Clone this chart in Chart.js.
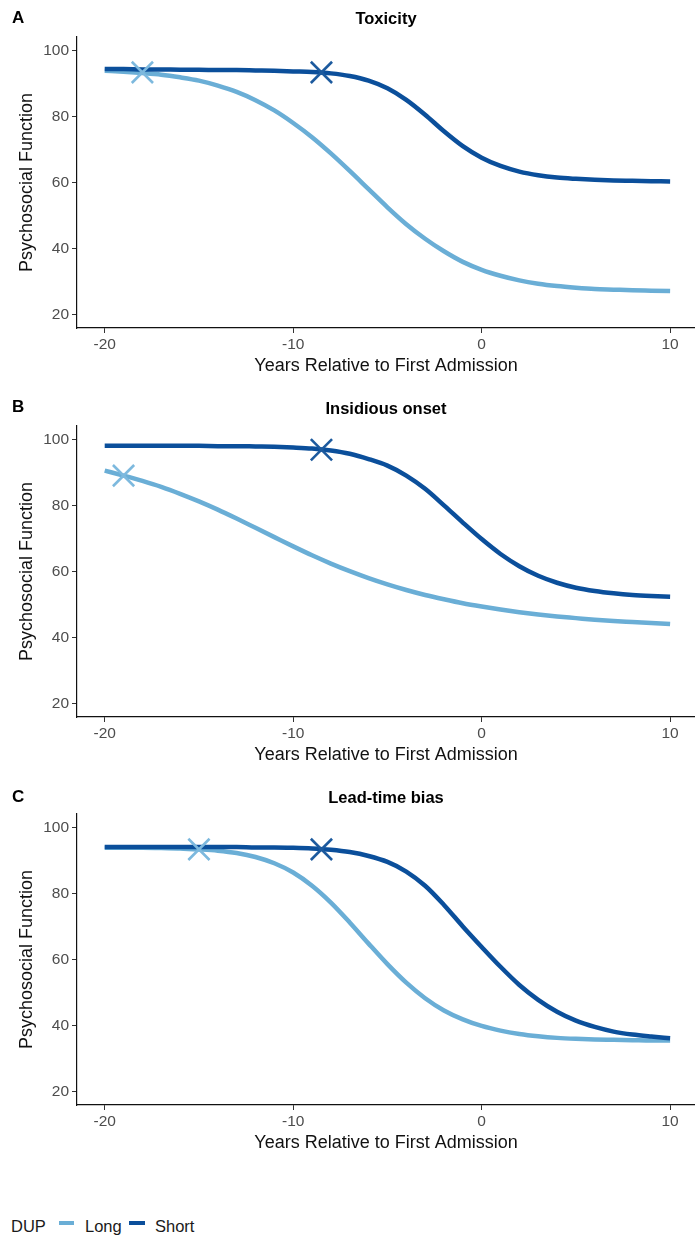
<!DOCTYPE html>
<html>
<head>
<meta charset="utf-8">
<script src="https://cdn.jsdelivr.net/npm/chart.js@4/dist/chart.umd.min.js"></script>
<style>
  html, body { margin:0; padding:0; background:#fff; }
  body { width:695px; height:1237px; position:relative; overflow:hidden; font-family:"Liberation Sans", Arial, sans-serif; }
  .panel { position:absolute; left:0; width:695px; height:389px; }
  .letter { position:absolute; font-weight:bold; font-size:17px; color:#000; transform:translateY(-50%); }
  .ptitle { position:absolute; font-weight:bold; font-size:16.5px; color:#000; transform:translate(-50%,-50%); white-space:nowrap; }
  .leg { position:absolute; font-size:16.5px; color:#1a1a1a; transform:translateY(-50%); white-space:nowrap; }
  .sw { position:absolute; height:4px; }
</style>
</head>
<body>
<div class="panel" style="top:0px"><canvas id="cA" width="695" height="389"></canvas></div>
<div class="panel" style="top:389px"><canvas id="cB" width="695" height="389"></canvas></div>
<div class="panel" style="top:777px"><canvas id="cC" width="695" height="389"></canvas></div>

<div class="letter" style="left:12px; top:18px">A</div>
<div class="letter" style="left:12px; top:407px">B</div>
<div class="letter" style="left:12px; top:797px">C</div>

<div class="ptitle" style="left:386px; top:18px">Toxicity</div>
<div class="ptitle" style="left:386px; top:408px">Insidious onset</div>
<div class="ptitle" style="left:386px; top:797px">Lead-time bias</div>

<div class="leg" style="left:11px; top:1226px">DUP</div>
<div class="sw" style="left:59px; top:1221px; width:15px; background:#6aaed6"></div>
<div class="leg" style="left:85px; top:1226px">Long</div>
<div class="sw" style="left:129px; top:1221px; width:16px; background:#0b4f9b"></div>
<div class="leg" style="left:155px; top:1226px">Short</div>

<script>
// ---- data ----
const years = [-20,-19,-18,-17,-16,-15,-14,-13,-12,-11,-10,-9,-8,-7,-6,-5,-4,-3,-2,-1,0,1,2,3,4,5,6,7,8,9,10];

const toxicityLong  = [93.8,93.5,93.1,92.6,91.8,90.8,89.3,87.4,84.9,81.8,78.0,73.7,68.8,63.5,58.0,52.5,47.4,43.0,39.2,36.0,33.6,31.8,30.4,29.4,28.7,28.2,27.8,27.6,27.4,27.3,27.2];
const toxicityShort = [94.3,94.3,94.2,94.2,94.1,94.1,94.0,94.0,93.9,93.8,93.6,93.4,93.0,92.2,90.8,88.5,85.0,80.5,75.5,71.0,67.5,65.0,63.3,62.2,61.5,61.1,60.8,60.6,60.5,60.4,60.3];

const insidiousLong  = [90.5,89.0,87.4,85.6,83.5,81.2,78.7,76.0,73.2,70.4,67.6,64.9,62.4,60.1,58.0,56.1,54.4,52.9,51.6,50.4,49.4,48.5,47.7,47.0,46.4,45.9,45.4,45.0,44.7,44.4,44.1];
const insidiousShort = [98.0,98.0,98.0,98.0,98.0,98.0,97.9,97.9,97.8,97.7,97.5,97.2,96.6,95.6,94.0,92.0,89.0,85.0,80.0,74.8,69.8,65.3,61.6,58.7,56.6,55.1,54.1,53.4,52.9,52.6,52.4];

const leadLong  = [93.8,93.8,93.8,93.7,93.6,93.3,92.9,92.2,91.0,89.1,86.3,82.3,77.2,71.2,64.8,58.6,53.0,48.3,44.6,41.9,39.9,38.5,37.5,36.8,36.3,36.0,35.8,35.7,35.6,35.5,35.5];
const leadShort = [94.0,94.0,94.0,94.0,94.0,94.0,94.0,94.0,93.9,93.9,93.8,93.6,93.2,92.5,91.3,89.5,86.6,82.3,76.5,70.0,63.8,57.8,52.3,47.8,44.2,41.5,39.6,38.2,37.3,36.7,36.2];

// DUP onset markers (x) : [Long, Short]
const crossXA = [-18, -8.5], crossYA = [93.3, 93.3];
const crossXB = [-19, -8.5], crossYB = [89.0, 96.8];
const crossXC = [-15, -8.5], crossYC = [93.3, 93.3];

const xTicks = [-20, -10, 0, 10];
const yTicks = [20, 40, 60, 80, 100];
const seriesNames = ['Long', 'Short'];

// ---- styles ----
const LIGHT = '#6aaed6';
const DARK = '#0b4f9b';
const FONT = '"Liberation Sans", Arial, sans-serif';

function pts(xs, ys) { return xs.map((x, i) => ({x: x, y: ys[i]})); }

function makeChart(id, longVals, shortVals, cx, cy) {
  const ctx = document.getElementById(id).getContext('2d');
  return new Chart(ctx, {
    type: 'line',
    data: {
      datasets: [
        { label: seriesNames[0], data: pts(years, longVals), borderColor: LIGHT, borderWidth: 4.5,
          pointRadius: 0, tension: 0.4, cubicInterpolationMode: 'monotone', fill: false, order: 4 },
        { label: seriesNames[1], data: pts(years, shortVals), borderColor: DARK, borderWidth: 4.5,
          pointRadius: 0, tension: 0.4, cubicInterpolationMode: 'monotone', fill: false, order: 3 },
        { label: seriesNames[0] + ' onset', type: 'scatter', data: [{x: cx[0], y: cy[0]}], showLine: false,
          pointStyle: 'crossRot', pointRadius: 15, pointBorderWidth: 2.6, borderColor: '#7db9de', backgroundColor: '#7db9de', order: 2 },
        { label: seriesNames[1] + ' onset', type: 'scatter', data: [{x: cx[1], y: cy[1]}], showLine: false,
          pointStyle: 'crossRot', pointRadius: 15, pointBorderWidth: 2.6, borderColor: '#1c5a9e', backgroundColor: '#1c5a9e', order: 1 }
      ]
    },
    options: {
      responsive: false,
      animation: false,
      events: [],
      layout: { autoPadding: false, padding: { top: 37, right: 0, left: 0, bottom: 0 } },
      plugins: { legend: { display: false }, title: { display: false }, tooltip: { enabled: false } },
      scales: {
        x: {
          type: 'linear', min: -21.47, max: 11.32,
          afterBuildTicks: s => { s.ticks = xTicks.map(v => ({value: v})); },
          afterFit: s => { s.height = 61; s.paddingLeft = 0; s.paddingRight = 0; },
          grid: { display: true, drawOnChartArea: false, drawTicks: true, tickLength: 5, color: '#333', lineWidth: 1 },
          border: { display: true, color: '#111', width: 1.2 },
          ticks: { color: '#4d4d4d', font: { family: FONT, size: 15.5 }, padding: 2, maxRotation: 0,
                   callback: v => String(v) },
          title: { display: true, text: 'Years Relative to First Admission', color: '#111',
                   font: { family: FONT, size: 18 }, padding: { top: 0, bottom: 12 } }
        },
        y: {
          type: 'linear', min: 16, max: 104,
          afterBuildTicks: s => { s.ticks = yTicks.map(v => ({value: v})); },
          afterFit: s => { s.width = 77; s.paddingTop = 0; s.paddingBottom = 0; },
          grid: { display: true, drawOnChartArea: false, drawTicks: true, tickLength: 5, color: '#333', lineWidth: 1 },
          border: { display: true, color: '#111', width: 1.2 },
          ticks: { color: '#4d4d4d', font: { family: FONT, size: 15.5 }, padding: 3, callback: v => String(v) },
          title: { display: true, text: 'Psychosocial Function', color: '#111',
                   font: { family: FONT, size: 18 }, padding: { top: 16, bottom: 0 } }
        }
      }
    }
  });
}

makeChart('cA', toxicityLong, toxicityShort, crossXA, crossYA);
makeChart('cB', insidiousLong, insidiousShort, crossXB, crossYB);
makeChart('cC', leadLong, leadShort, crossXC, crossYC);
</script>
</body>
</html>
